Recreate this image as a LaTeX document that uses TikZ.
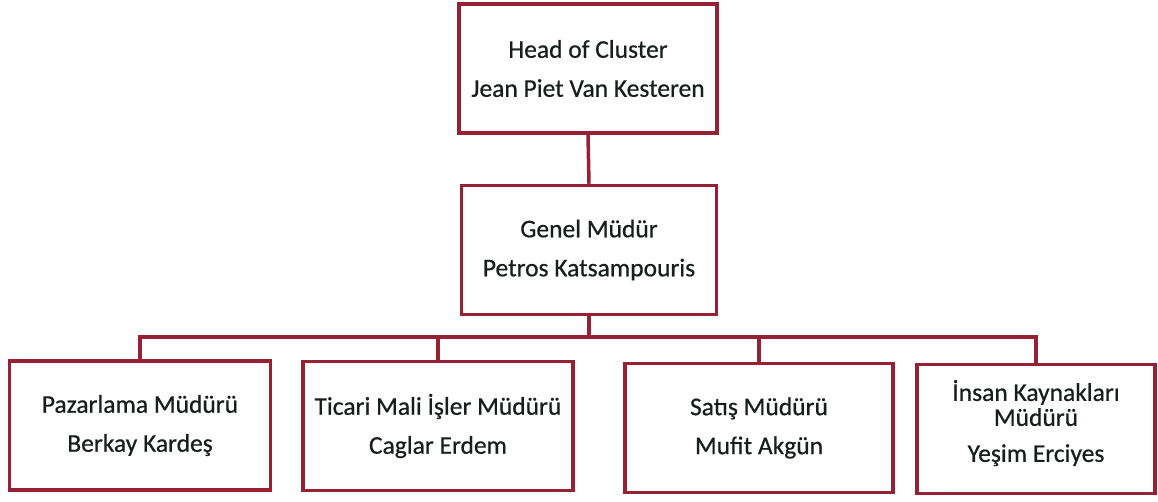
\documentclass[tikz,border=0pt]{standalone}
\usepackage{fontspec}
\setmainfont{Carlito}
\usepackage{tikz}

\definecolor{frame}{RGB}{152,32,52}
\definecolor{ink}{RGB}{25,30,28}

\begin{document}
\begin{tikzpicture}[x=1pt, y=-1pt,
		box/.style={rectangle, draw=frame, line width=3.5pt, fill=white, inner sep=0pt,
			minimum height=129pt, align=center, text=ink,
			font=\fontsize{25.5}{39}\selectfont\addfontfeatures{FakeBold=0.6}},
		link/.style={draw=frame, line width=3.5pt}]
			\useasboundingbox (0,0) rectangle (1158,501);
			% Nodes
			\node[box, minimum width=258pt] (head) at (588,68.5) {Head of Cluster\\Jean Piet Van Kesteren};
			\node[box, minimum width=255pt] (gm) at (589,250) {Genel Müdür\\Petros Katsampouris};
			\node[box, minimum width=261pt] (leaf1) at (140,425.5) {Pazarlama Müdürü\\Berkay Kardeş};
			\node[box, minimum width=270pt] (leaf2) at (438,426) {Ticari Mali İşler Müdürü\\Caglar Erdem};
			\node[box, minimum width=268pt] (leaf3) at (759,428) {Satış Müdürü\\Mufit Akgün};
			\node[box, minimum width=238pt] (leaf4) at (1036,429) {\\[-30pt]İnsan Kaynakları\\[-14pt]Müdürü\\[-3pt]Yeşim Erciyes};
			\coordinate (bus) at (589,337);
			% Connectors
			\draw[link] (head.south) -- (gm.north);
			\draw[link] (gm.south) -- (bus);
			\foreach \i in {1,2,3,4} {
				\draw[link] (bus) -| (leaf\i.north);
			}
		\end{tikzpicture}
\end{document}
